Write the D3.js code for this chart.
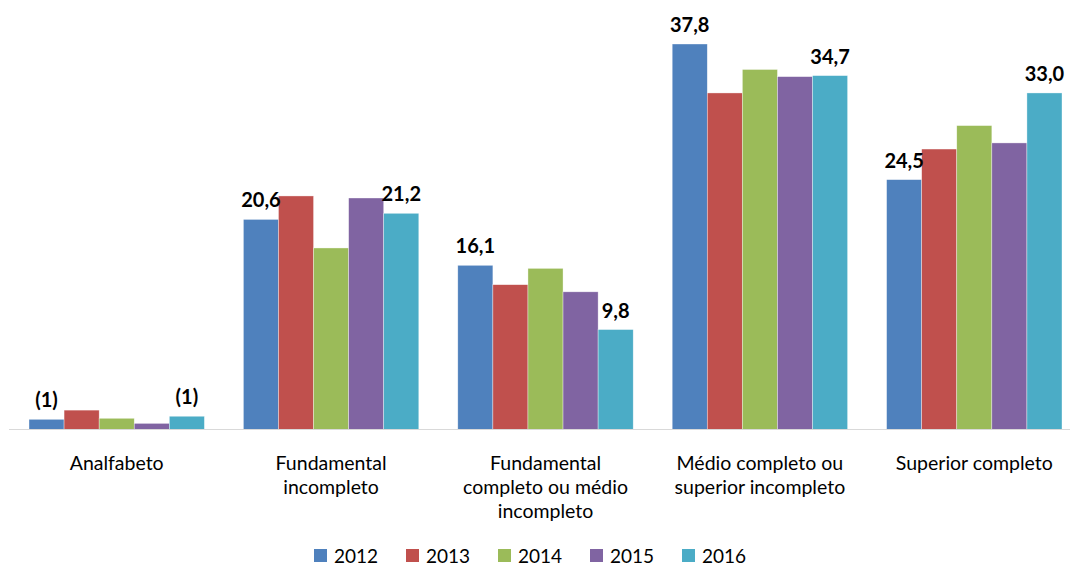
<!DOCTYPE html>
<html><head><meta charset="utf-8">
<script src="https://cdn.jsdelivr.net/npm/d3@7"></script>
<style>body{margin:0;background:#fff}svg{display:block}text{font-family:Lato,"Open Sans",sans-serif}</style>
</head><body><svg id="c" width="1070" height="567"></svg>
<script>
const categories = ["Analfabeto","Fundamental incompleto","Fundamental completo ou médio incompleto","Médio completo ou superior incompleto","Superior completo"];
const categoryLines = [["Analfabeto"],["Fundamental","incompleto"],["Fundamental","completo ou médio","incompleto"],["Médio completo ou","superior incompleto"],["Superior completo"]];
const years = ["2012","2013","2014","2015","2016"];
const v2012 = [1.0, 20.6, 16.1, 37.8, 24.5];
const v2013 = [1.9, 22.9, 14.2, 33.0, 27.5];
const v2014 = [1.1, 17.8, 15.8, 35.3, 29.8];
const v2015 = [0.6, 22.7, 13.5, 34.6, 28.1];
const v2016 = [1.3, 21.2, 9.8, 34.7, 33.0];
const colors = ["#4F81BD","#C0504D","#9BBB59","#8064A2","#4BACC6"];
// labels shown: [category index, year index, text]
const labelsShown = [[0,0,"(1)"],[0,4,"(1)"],[1,0,"20,6"],[1,4,"21,2"],[2,0,"16,1"],[2,4,"9,8"],[3,0,"37,8"],[3,4,"34,7"],[4,0,"24,5"],[4,4,"33,0"]];

const series = [v2012,v2013,v2014,v2015,v2016];
const svg = d3.select("#c");
const baseY = 429.5;
const x0 = d3.scaleBand().domain(categories).range([9.5,1081.5]).padding(0);
const x1 = d3.scaleBand().domain(years).range([19.5, x0.bandwidth()-19.5]).padding(0);
const y = d3.scaleLinear().domain([0,37.8]).range([baseY, 44]);

const g = svg.append("g");
categories.forEach((c,ci)=>{
  const gg = g.append("g").attr("transform",`translate(${x0(c)},0)`);
  years.forEach((yr,yi)=>{
    const v = series[yi][ci];
    gg.append("rect").attr("x",x1(yr)).attr("width",x1.bandwidth())
      .attr("y",y(v)).attr("height",baseY-y(v)).attr("fill",colors[yi])
      .attr("stroke","#fff").attr("stroke-width",0.6).attr("stroke-opacity",0.6);
  });
});
svg.append("line").attr("x1",9).attr("x2",1070).attr("y1",baseY).attr("y2",baseY)
  .attr("stroke","#D9D9D9").attr("stroke-width",1.2);

labelsShown.forEach(([ci,yi,t])=>{
  const v = series[yi][ci];
  svg.append("text").attr("x",x0(categories[ci])+x1(years[yi])+x1.bandwidth()/2)
    .attr("y",y(v)-12).attr("text-anchor","middle").attr("font-weight","bold")
    .attr("font-size",20).attr("fill","#000").text(t);
});

categories.forEach((c,ci)=>{
  const t = svg.append("text").attr("x",x0(c)+x0.bandwidth()/2).attr("y",470)
    .attr("text-anchor","middle").attr("font-size",19.5).attr("fill","#000");
  categoryLines[ci].forEach((l,li)=>{
    t.append("tspan").attr("x",x0(c)+x0.bandwidth()/2).attr("dy",li?24:0).text(l);
  });
});

const leg = svg.append("g");
years.forEach((yr,i)=>{
  const lx = 314 + i*92;
  leg.append("rect").attr("x",lx).attr("y",549).attr("width",13).attr("height",13).attr("fill",colors[i]);
  leg.append("text").attr("x",lx+20).attr("y",563).attr("font-size",19).attr("fill","#000").text(yr);
});
</script></body></html>
